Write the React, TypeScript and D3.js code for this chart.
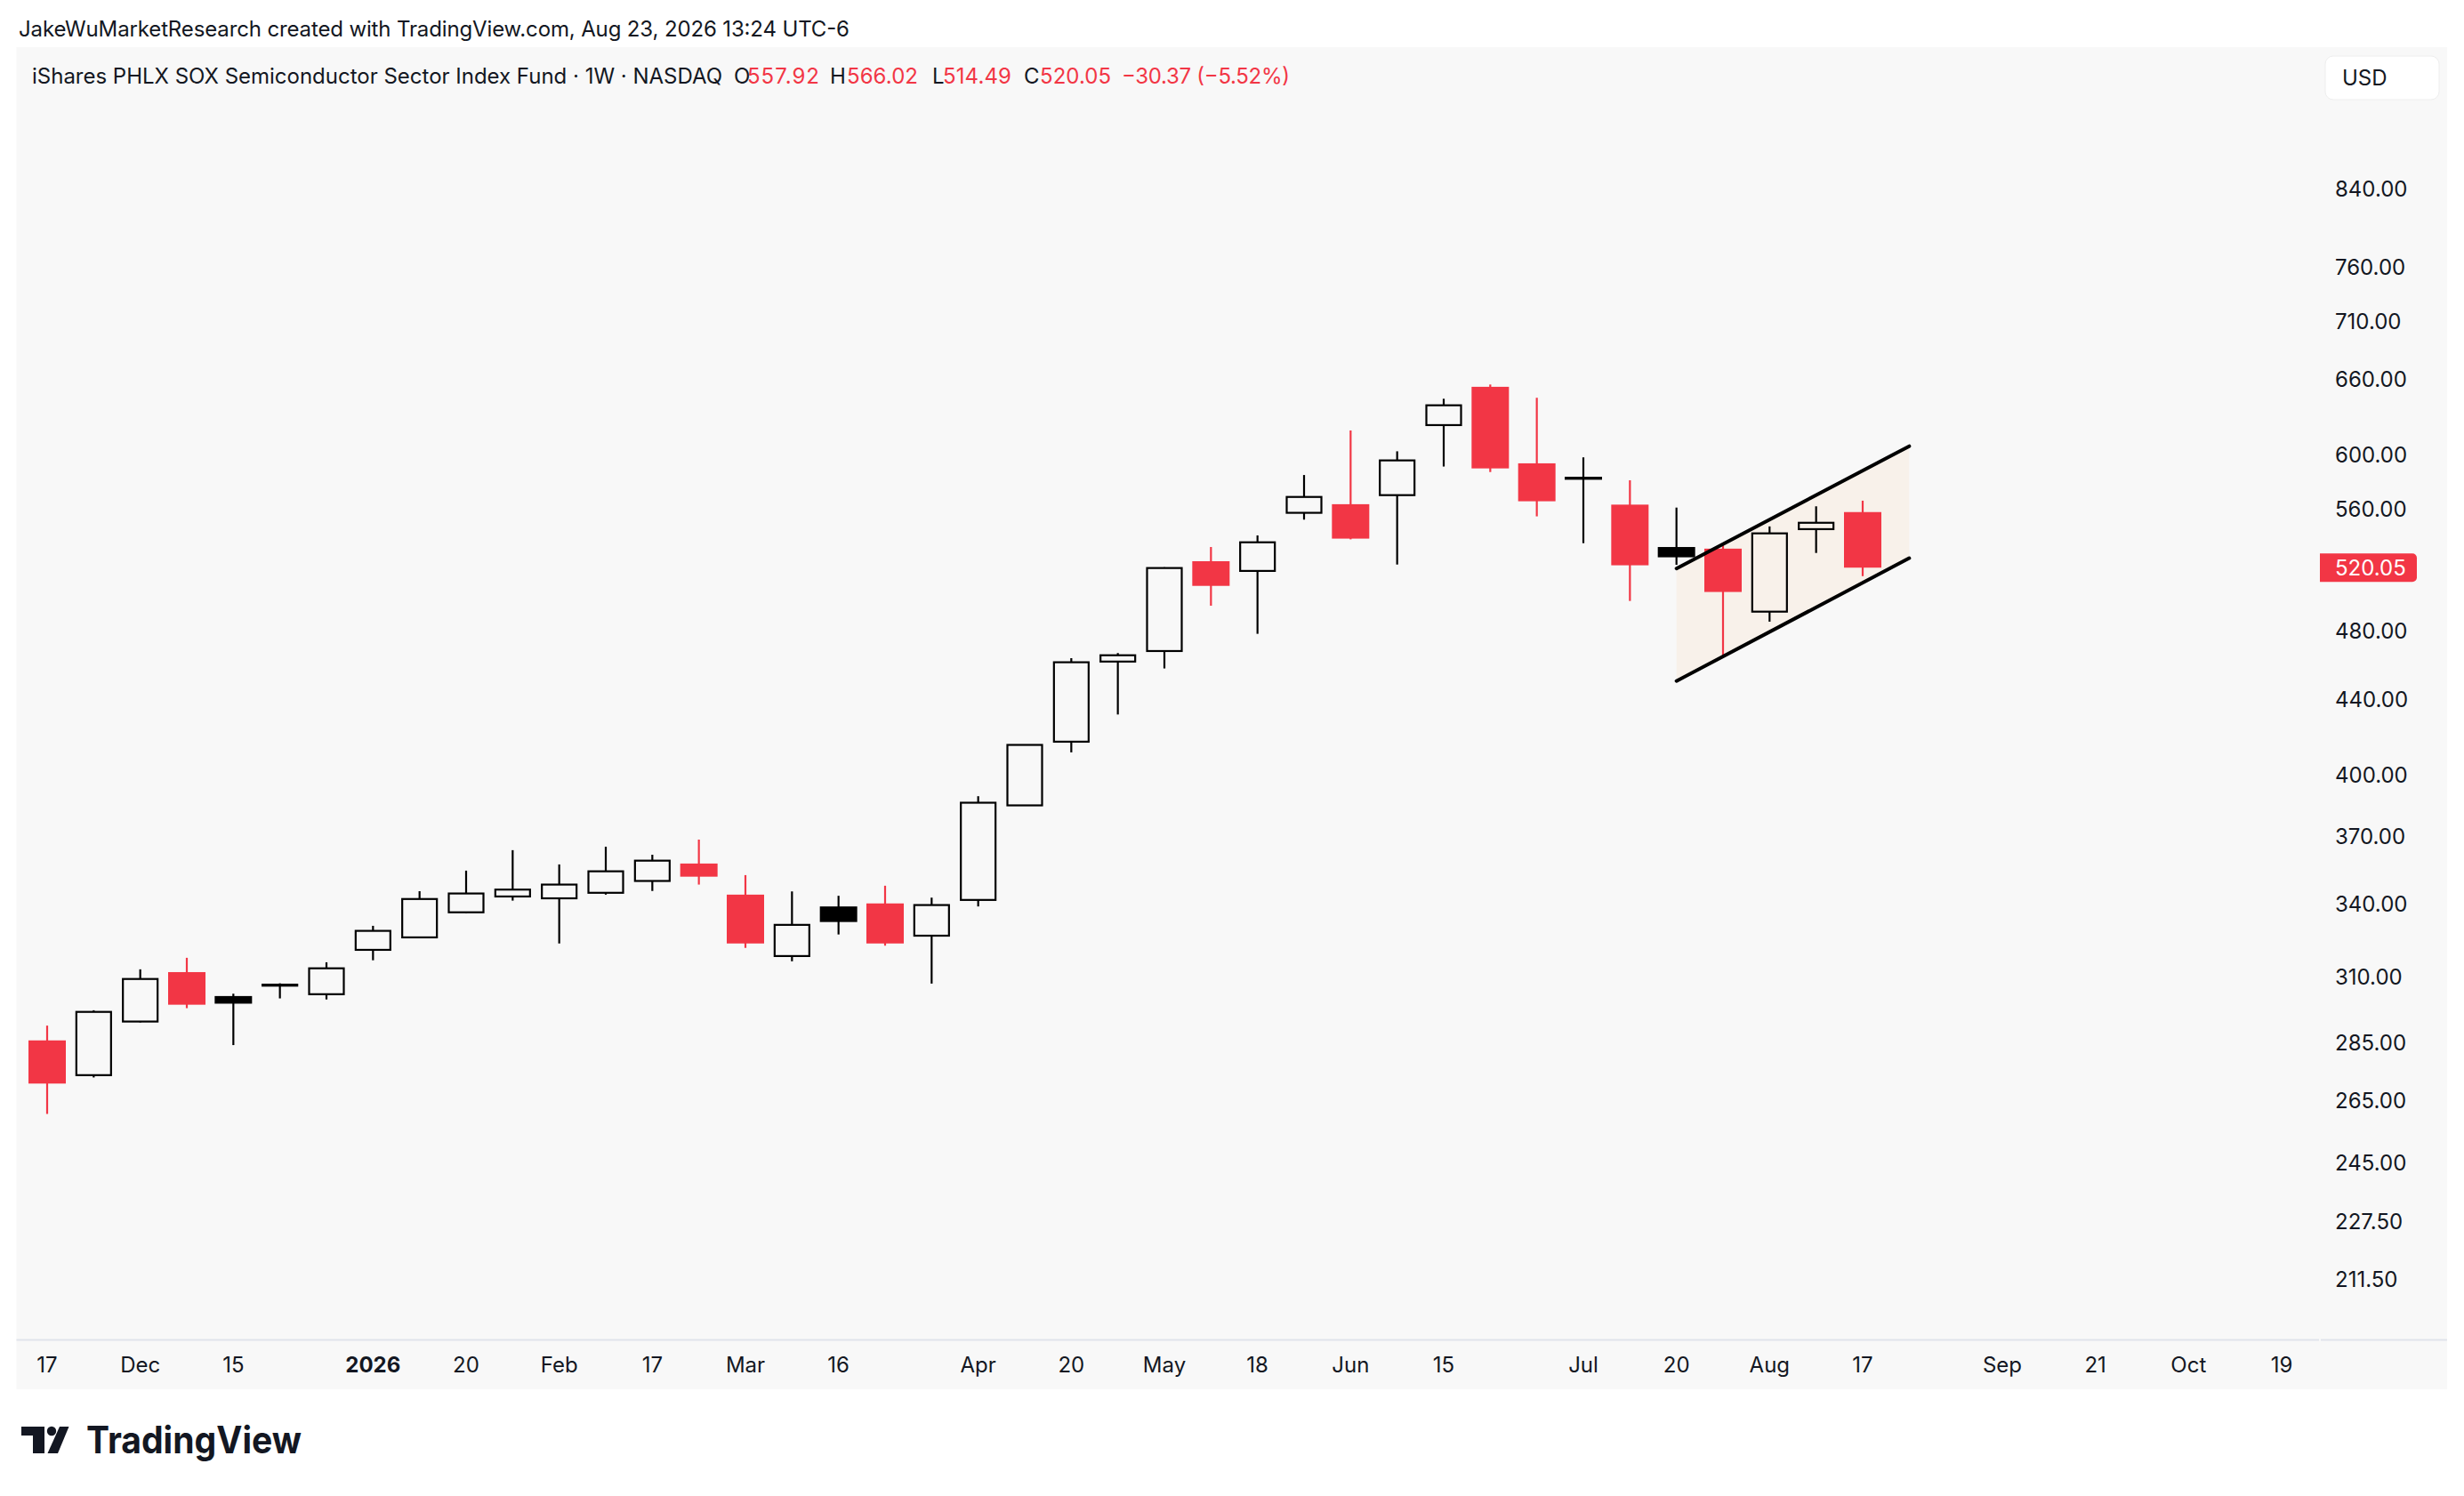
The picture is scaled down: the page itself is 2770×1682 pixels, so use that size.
import React from 'react';
import * as d3 from 'd3';

// weekly bars, iShares PHLX SOX (SOXX), 1W
const weeks = [
  '2025-11-17', '2025-11-24', '2025-12-01', '2025-12-08', '2025-12-15', '2025-12-22', '2025-12-29',
  '2026-01-05', '2026-01-12', '2026-01-20', '2026-01-26', '2026-02-02', '2026-02-09', '2026-02-17',
  '2026-02-23', '2026-03-02', '2026-03-09', '2026-03-16', '2026-03-23', '2026-03-30', '2026-04-06',
  '2026-04-13', '2026-04-20', '2026-04-27', '2026-05-04', '2026-05-11', '2026-05-18', '2026-05-26',
  '2026-06-01', '2026-06-08', '2026-06-15', '2026-06-22', '2026-06-29', '2026-07-06', '2026-07-13',
  '2026-07-20', '2026-07-27', '2026-08-03', '2026-08-10', '2026-08-17',
];
const opens = [
  286.0, 273.7, 292.9, 311.8, 302.5, 306.5, 303.2, 320.7, 325.8, 336.3,
  343.1, 342.3, 344.7, 349.9, 357.7, 343.9, 318.2, 338.8, 340.1, 326.5,
  341.6, 385.0, 417.3, 461.8, 468.0, 524.3, 517.9, 557.4, 563.5, 570.0,
  622.8, 653.7, 593.4, 583.4, 563.2, 533.8, 532.7, 491.9, 546.0, 557.92,
];
const highs = [
  291.4, 297.1, 312.9, 317.5, 303.4, 307.4, 315.7, 330.6, 345.4, 354.5,
  363.8, 357.3, 365.4, 361.7, 368.7, 352.5, 345.3, 343.4, 347.8, 342.6,
  389.5, 415.8, 463.8, 466.8, 520.3, 533.8, 541.7, 584.7, 618.6, 602.5,
  643.9, 655.6, 644.7, 597.9, 580.8, 561.1, 534.9, 547.9, 562.0, 566.02,
];
const lows = [
  260.6, 272.9, 292.6, 297.9, 284.3, 301.6, 301.2, 316.5, 325.5, 336.0,
  341.3, 323.3, 343.9, 345.5, 348.3, 321.5, 316.1, 327.0, 322.4, 307.3,
  338.8, 384.9, 411.7, 431.9, 457.8, 495.6, 478.3, 552.6, 539.0, 522.1,
  591.0, 586.9, 554.9, 536.4, 498.6, 521.9, 464.2, 485.7, 529.8, 514.49,
];
const closes = [
  270.8, 296.5, 309.1, 299.2, 299.6, 306.9, 313.3, 328.5, 342.0, 344.4,
  346.1, 348.3, 354.2, 359.0, 351.8, 323.3, 331.0, 332.2, 323.3, 339.4,
  386.3, 415.6, 461.4, 465.5, 519.8, 508.2, 537.0, 568.7, 539.5, 595.6,
  638.6, 589.6, 565.6, 581.2, 521.6, 526.9, 504.3, 543.1, 550.42, 520.05,
];

const priceTicks = [840, 760, 710, 660, 600, 560, 480, 440, 400, 370, 340, 310, 285, 265, 245, 227.5, 211.5];

const timeTickLabels = ['17', 'Dec', '15', '2026', '20', 'Feb', '17', 'Mar', '16', 'Apr', '20', 'May',
  '18', 'Jun', '15', 'Jul', '20', 'Aug', '17', 'Sep', '21', 'Oct', '19'];
const timeTickBars = [0, 2, 4, 7, 9, 11, 13, 15, 17, 20, 22, 24, 26, 28, 30, 33, 35, 37, 39, 42, 44, 46, 48];

// rising channel drawn on the chart: [bar index, price]
const channelUpper: [number, number][] = [[35, 519.5], [40, 606.4]];
const channelLower: [number, number][] = [[35, 450.6], [40, 526.3]];

const W = 2770;
const H = 1682;
const FONT = "Inter, 'Noto Sans', sans-serif";
const INK = '#131722';
const RED = '#f23645';
const PANE = { left: 18.5, right: 2751, top: 53, bottom: 1562, axisY: 1506.5, priceAxisX: 2608 };

export default function App() {
  const x = d3.scaleLinear().domain([0, weeks.length - 1]).range([53, 2094]);
  const y = d3.scaleLog().domain([840, 211.5]).range([212, 1438]);

  const bars = weeks.map((w, i) => {
    const o = opens[i], h = highs[i], l = lows[i], c = closes[i];
    const ref = i > 0 ? closes[i - 1] : o;
    return { w, i, o, h, l, c, hollow: c >= o, color: c >= ref ? '#000000' : RED };
  });

  const last = bars[bars.length - 1];
  const chg = last.c - closes[closes.length - 2];
  const pct = (chg / closes[closes.length - 2]) * 100;
  const fmt = d3.format('.2f');
  const signed = (v: number) => (v < 0 ? '\u2212' + fmt(-v) : '+' + fmt(v));

  const channelArea = [...channelUpper, ...channelLower.slice().reverse()]
    .map(([b, p]) => `${x(b)},${y(p)}`).join(' ');
  const line = d3.line<[number, number]>().x(d => x(d[0])).y(d => y(d[1]));

  const halfBody = 21;

  return (
    <svg width={W} height={H} style={{ position: 'absolute', left: 0, top: 0, background: '#ffffff' }}
      fontFamily={FONT}>
      {/* credit line */}
      <text x={21} y={32} fontSize={24} fill={INK} dominantBaseline="central" textLength={934}
        lengthAdjust="spacing">
        JakeWuMarketResearch created with TradingView.com, Aug 23, 2026 13:24 UTC-6
      </text>

      <rect x={PANE.left} y={PANE.top} width={PANE.right - PANE.left} height={PANE.bottom - PANE.top}
        fill="#f8f8f8" />

      {/* title + OHLC */}
      <g fontSize={24} dominantBaseline="central">
        <text x={36} y={85} fill={INK} textLength={776} lengthAdjust="spacing">
          iShares PHLX SOX Semiconductor Sector Index Fund · 1W · NASDAQ
        </text>
        <text x={825} y={85} fill={INK}>O</text>
        <text x={840} y={85} fill={RED} textLength={81} lengthAdjust="spacing">{fmt(last.o)}</text>
        <text x={933} y={85} fill={INK}>H</text>
        <text x={952} y={85} fill={RED} textLength={80} lengthAdjust="spacing">{fmt(last.h)}</text>
        <text x={1048} y={85} fill={INK}>L</text>
        <text x={1060} y={85} fill={RED} textLength={77} lengthAdjust="spacing">{fmt(last.l)}</text>
        <text x={1151} y={85} fill={INK}>C</text>
        <text x={1169} y={85} fill={RED} textLength={80} lengthAdjust="spacing">{fmt(last.c)}</text>
        <text x={1261} y={85} fill={RED} textLength={189} lengthAdjust="spacing">
          {`${signed(chg)} (${signed(pct)}%)`}
        </text>
      </g>

      {/* USD button */}
      <rect x={2614} y={63} width={128} height={49} rx={9} fill="#ffffff" stroke="#eeeeee" strokeWidth={1} />
      <text x={2633} y={87.5} fontSize={24} fill={INK} dominantBaseline="central">USD</text>

      {/* channel fill */}
      <polygon points={channelArea} fill="#f8f1ea" />

      {/* candles */}
      {bars.map(b => {
        const cx = x(b.i);
        const top = y(Math.max(b.o, b.c));
        const bot = y(Math.min(b.o, b.c));
        if (b.hollow) {
          return (
            <g key={b.w} stroke={b.color} strokeWidth={2.2} fill="none">
              <line x1={cx} x2={cx} y1={y(b.h)} y2={top} />
              <line x1={cx} x2={cx} y1={bot} y2={y(b.l)} />
              <rect x={cx - halfBody + 1.5} y={top} width={(halfBody - 1.5) * 2} height={Math.max(bot - top, 0.5)} />
            </g>
          );
        }
        return (
          <g key={b.w}>
            <line x1={cx} x2={cx} y1={y(b.h)} y2={y(b.l)} stroke={b.color} strokeWidth={2.2} />
            <rect x={cx - halfBody} y={top} width={halfBody * 2} height={Math.max(bot - top, 3)} fill={b.color} />
          </g>
        );
      })}

      {/* channel lines */}
      <path d={line(channelUpper) || ''} stroke="#000000" strokeWidth={4} strokeLinecap="round" fill="none" />
      <path d={line(channelLower) || ''} stroke="#000000" strokeWidth={4} strokeLinecap="round" fill="none" />

      {/* time axis */}
      <line x1={PANE.left} x2={PANE.priceAxisX - 1} y1={PANE.axisY} y2={PANE.axisY} stroke="#e0e3eb" strokeWidth={2} />
      <line x1={PANE.priceAxisX + 1} x2={PANE.right} y1={PANE.axisY} y2={PANE.axisY} stroke="#e0e3eb" strokeWidth={2} />
      {timeTickLabels.map((t, k) => (
        <text key={k} x={x(timeTickBars[k])} y={1534} fontSize={24} fill={INK} textAnchor="middle"
          dominantBaseline="central" fontWeight={t === '2026' ? 700 : 400}>
          {t}
        </text>
      ))}

      {/* price axis */}
      {priceTicks.map(p => (
        <text key={p} x={2625} y={y(p)} fontSize={24} fill={INK} dominantBaseline="central">
          {fmt(p)}
        </text>
      ))}
      <path
        d={`M${PANE.priceAxisX},${y(last.c) - 16} H2712 a5,5 0 0 1 5,5 V${y(last.c) + 11} a5,5 0 0 1 -5,5 H${PANE.priceAxisX} Z`}
        fill={RED} />
      <text x={2625} y={y(last.c)} fontSize={24} fill="#ffffff" dominantBaseline="central">{fmt(last.c)}</text>

      {/* TradingView logo */}
      <g fill={INK} transform="translate(0,-3)">
        <path d="M24,1607 H50 V1637 H37 V1617 H24 Z" />
        <circle cx={58} cy={1612} r={5.2} />
        <path d="M67,1607 H77.5 L65,1637 H53.5 Z" />
        <text x={97} y={1637} fontSize={42} fontWeight={700} textLength={242} lengthAdjust="spacingAndGlyphs">
          TradingView
        </text>
      </g>
    </svg>
  );
}
